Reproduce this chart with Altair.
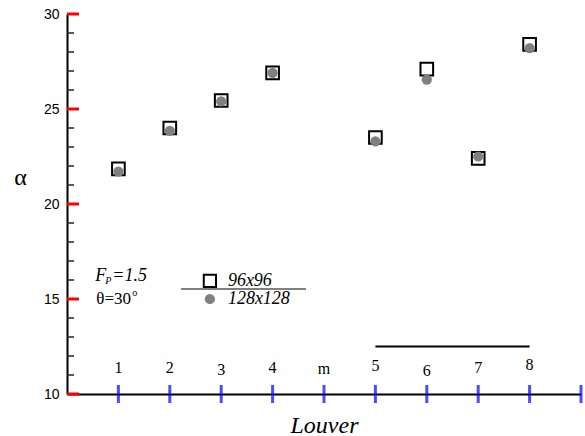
import altair as alt
import pandas as pd

# ---- data ----
louver_names = ["1", "2", "3", "4", "m", "5", "6", "7", "8"]
louver_pos = [1, 2, 3, 4, 5, 6, 7, 8, 9]
louver_label_y = [11.35, 11.37, 11.26, 11.37, 11.29, 11.49, 11.23, 11.37, 11.53]

point_pos = [1, 2, 3, 4, 6, 7, 8, 9]
alpha_96 = [21.85, 24.0, 25.45, 26.9, 23.5, 27.1, 22.4, 28.4]
alpha_128 = [21.7, 23.85, 25.4, 26.9, 23.3, 26.55, 22.5, 28.2]

y_major = [10, 15, 20, 25, 30]
y_minor = [11, 12, 13, 14, 16, 17, 18, 19, 21, 22, 23, 24, 26, 27, 28, 29]
x_ticks = [1, 2, 3, 4, 5, 6, 7, 8, 9, 10]

legend_names = ["96x96", "128x128"]
legend_sym_x = 2.78
legend_sym_y = [15.95, 15.0]
legend_text_x = 3.13
legend_line = {"x": [2.22], "x2": [4.65], "y": [15.53]}

anno_x = 0.55
anno_y = [16.2, 15.0]

GRAY = "#808080"
SERIF = "Liberation Serif"
SANS = "Liberation Sans"
W, H = 514, 380
X_DOM = [0, 10]
Y_DOM = [10, 30]

MAJ_PX, MIN_PX, XT_PX = 12, 7, 9
x_per_px = (X_DOM[1] - X_DOM[0]) / W
y_per_px = (Y_DOM[1] - Y_DOM[0]) / H

xs = alt.Scale(domain=X_DOM, nice=False, zero=False)
ys = alt.Scale(domain=Y_DOM, nice=False, zero=False)

x_axis = alt.Axis(title="Louver", labels=False, ticks=False, grid=False,
                  domainColor="black", domainWidth=2,
                  titleFont=SERIF, titleFontSize=24, titleFontStyle="italic",
                  titleFontWeight="normal", titleBaseline="alphabetic",
                  titleY=38, titleColor="black")
y_axis = alt.Axis(title="α", values=y_major, ticks=False, grid=False,
                  domainColor="black", domainWidth=2,
                  labelFont=SANS, labelFontSize=14, labelColor="black",
                  labelPadding=8,
                  titleFont=SERIF, titleFontSize=24, titleFontWeight="normal",
                  titleAngle=0, titleX=-47, titleY=163,
                  titleBaseline="middle", titleAlign="center",
                  titleColor="black")

pts = pd.DataFrame({"x": point_pos, "a96": alpha_96, "a128": alpha_128})
labs = pd.DataFrame({"x": louver_pos, "name": louver_names, "y": louver_label_y})

base = alt.Chart(pts)
squares = base.mark_point(shape="square", filled=True, fill="white", stroke="black",
                          strokeWidth=2, size=160, opacity=1).encode(
    x=alt.X("x:Q", scale=xs, axis=x_axis), y=alt.Y("a96:Q", scale=ys, axis=y_axis))
circles = base.mark_circle(color=GRAY, size=105, opacity=1).encode(
    x=alt.X("x:Q", scale=xs), y=alt.Y("a128:Q", scale=ys))

ymaj_df = pd.DataFrame({"yv": y_major, "xa": [X_DOM[0]] * len(y_major),
                        "xb": [X_DOM[0] + MAJ_PX * x_per_px] * len(y_major)})
ymin_df = pd.DataFrame({"yv": y_minor, "xa": [X_DOM[0]] * len(y_minor),
                        "xb": [X_DOM[0] + MIN_PX * x_per_px] * len(y_minor)})

ymaj = alt.Chart(ymaj_df).mark_rule(color="red", strokeWidth=3).encode(
    y=alt.Y("yv:Q", scale=ys), x=alt.X("xa:Q", scale=xs), x2="xb:Q")
ymin = alt.Chart(ymin_df).mark_rule(color="#222222", strokeWidth=1.5).encode(
    y=alt.Y("yv:Q", scale=ys), x=alt.X("xa:Q", scale=xs), x2="xb:Q")
xtk = alt.Chart(pd.DataFrame({"xv": x_ticks})).mark_tick(
    color="blue", thickness=3, size=XT_PX * 2, orient="vertical").encode(
    x=alt.X("xv:Q", scale=xs), y=alt.value(H))
diag = alt.Chart(pd.DataFrame({"a": [6.0], "b": [9.0], "c": [12.5]})).mark_rule(
    color="black", strokeWidth=2).encode(
    x=alt.X("a:Q", scale=xs), x2="b:Q", y=alt.Y("c:Q", scale=ys))

xlab = alt.Chart(labs).mark_text(font=SERIF, fontSize=16, color="black",
                                 baseline="middle", align="center").encode(
    x=alt.X("x:Q", scale=xs), y=alt.Y("y:Q", scale=ys), text="name:N")

leg_sq = alt.Chart(pd.DataFrame({"x": [legend_sym_x], "y": [legend_sym_y[0]]})).mark_point(
    shape="square", filled=True, fill="white", stroke="black", strokeWidth=2, size=150, opacity=1
).encode(x=alt.X("x:Q", scale=xs), y=alt.Y("y:Q", scale=ys))
leg_ci = alt.Chart(pd.DataFrame({"x": [legend_sym_x], "y": [legend_sym_y[1]]})).mark_circle(
    color=GRAY, size=105, opacity=1
).encode(x=alt.X("x:Q", scale=xs), y=alt.Y("y:Q", scale=ys))
leg_line = alt.Chart(pd.DataFrame(legend_line)).mark_rule(color=GRAY, strokeWidth=2).encode(
    x=alt.X("x:Q", scale=xs), x2="x2:Q", y=alt.Y("y:Q", scale=ys))
leg_txt = alt.Chart(pd.DataFrame({"x": [legend_text_x] * 2, "y": legend_sym_y,
                                  "t": legend_names})).mark_text(
    font=SERIF, fontSize=18, fontStyle="italic", color="black", align="left",
    baseline="middle").encode(x=alt.X("x:Q", scale=xs), y=alt.Y("y:Q", scale=ys), text="t:N")

def txt(s, x, y, size, style="normal", dx=0, dy=0):
    return alt.Chart(pd.DataFrame({"x": [x], "y": [y], "t": [s]})).mark_text(
        font=SERIF, fontSize=size, fontStyle=style, color="black", align="left",
        baseline="middle", dx=dx, dy=dy).encode(
        x=alt.X("x:Q", scale=xs), y=alt.Y("y:Q", scale=ys), text="t:N")

ann = [
    txt("F", anno_x, anno_y[0], 18, "italic"),
    txt("P", anno_x, anno_y[0], 10, "italic", dx=10, dy=5),
    txt("=1.5", anno_x, anno_y[0], 18, "italic", dx=17),
    txt("θ=30", anno_x, anno_y[1], 17, "normal", dx=1),
    txt("o", anno_x, anno_y[1], 10, "normal", dx=37, dy=-6),
]

chart = alt.layer(squares, circles, ymaj, ymin, xtk, diag, xlab, leg_line, leg_sq, leg_ci,
                  leg_txt, *ann).properties(
    width=W, height=H,
    autosize=alt.AutoSizeParams(type="none"),
    padding={"left": 67, "top": 14, "right": 4, "bottom": 42},
).configure_view(stroke=None)

chart.save("out.html", embed_options={"renderer": "svg", "actions": False})
